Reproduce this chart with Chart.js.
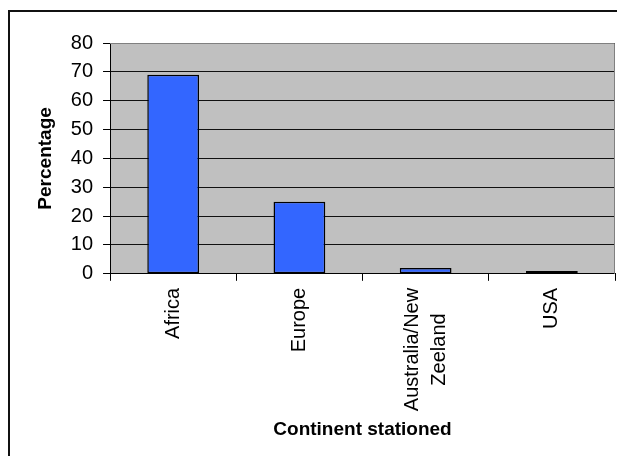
<!DOCTYPE html>
<html>
<head>
<meta charset="utf-8">
<script src="https://cdn.jsdelivr.net/npm/chart.js@4.4.1/dist/chart.umd.min.js"></script>
<style>
    html, body { margin: 0; padding: 0; background: #fff; overflow: hidden; }
    #wrap { position: relative; width: 617px; height: 456px; }
    #frame { position: absolute; left: 8px; top: 10px; width: 700px; height: 600px; border: 2px solid #111; box-sizing: border-box; }
    canvas { position: absolute; left: 0; top: 0; }
</style>
</head>
<body>
<div id="wrap">
    <div id="frame"></div>
    <canvas id="chart" width="617" height="456"></canvas>
</div>
<script>
        const categories = ['Africa', 'Europe', ['Australia/New', 'Zeeland'], 'USA'];
        const percentages = [69, 25, 2, 1];
        const yTicks = [0, 10, 20, 30, 40, 50, 60, 70, 80];

        const fontFamily = "'Liberation Sans', Arial, sans-serif";
        const tickFont = { family: fontFamily, size: 20 };
        const titleFont = { family: fontFamily, size: 19, weight: 'bold' };

        // grey plot area, Excel style
        const plotBackground = {
            id: 'plotBackground',
            beforeDraw(chart) {
                const { ctx, chartArea: a } = chart;
                ctx.save();
                ctx.fillStyle = '#C0C0C0';
                ctx.fillRect(a.left, a.top, a.right - a.left, a.bottom - a.top);
                ctx.restore();
            },
            afterDraw(chart) {
                const { ctx, chartArea: a } = chart;
                ctx.save();
                ctx.strokeStyle = '#808080';
                ctx.lineWidth = 1;
                ctx.beginPath();
                ctx.moveTo(a.left, Math.round(a.top) + 0.5);
                ctx.lineTo(Math.round(a.right) - 0.5, Math.round(a.top) + 0.5);
                ctx.lineTo(Math.round(a.right) - 0.5, a.bottom);
                ctx.stroke();
                ctx.restore();
            }
        };

        // category labels: rotated, each line centred inside the label block
        const categoryLabels = {
            id: 'categoryLabels',
            afterDraw(chart) {
                const { ctx } = chart;
                const xs = chart.scales.x;
                const lineH = 27;
                ctx.save();
                ctx.font = `${tickFont.size}px ${fontFamily}`;
                ctx.fillStyle = '#000';
                ctx.textAlign = 'center';
                ctx.textBaseline = 'middle';
                categories.forEach((lab, i) => {
                    const lines = Array.isArray(lab) ? lab : [lab];
                    const w = Math.max(...lines.map(l => ctx.measureText(l).width));
                    ctx.save();
                    ctx.translate(xs.getPixelForValue(i), xs.top + 14);
                    ctx.rotate(-Math.PI / 2);
                    lines.forEach((l, j) => {
                        ctx.fillText(l, -w / 2, (j - (lines.length - 1) / 2) * lineH);
                    });
                    ctx.restore();
                });
                ctx.restore();
            }
        };

        new Chart(document.getElementById('chart'), {
            type: 'bar',
            data: {
                labels: categories,
                datasets: [{
                    label: 'Percentage',
                    data: percentages,
                    backgroundColor: '#3366FF',
                    borderColor: '#000',
                    borderWidth: 1.5,
                    borderSkipped: false,
                    categoryPercentage: 1,
                    barPercentage: 0.41
                }]
            },
            options: {
                responsive: false,
                animation: false,
                layout: { padding: { left: 34, right: 2, top: 43, bottom: 15 } },
                plugins: {
                    legend: { display: false },
                    tooltip: { enabled: false }
                },
                scales: {
                    x: {
                        offset: true,
                        grid: { display: true, drawOnChartArea: false, offset: true, tickLength: 7, color: '#000' },
                        border: { color: '#000', width: 1 },
                        ticks: { color: 'rgba(0,0,0,0)', font: tickFont, minRotation: 90, maxRotation: 90, padding: 7 },
                        title: { display: true, text: 'Continent stationed', color: '#000', font: titleFont, padding: { top: 0, bottom: 0 } }
                    },
                    y: {
                        min: 0,
                        max: 80,
                        afterBuildTicks(axis) {
                            axis.ticks = yTicks.map(v => ({ value: v }));
                        },
                        grid: { color: '#111', tickLength: 7, tickColor: '#000' },
                        border: { color: '#000', width: 1 },
                        ticks: { color: '#000', font: tickFont, padding: 10 },
                        title: { display: true, text: 'Percentage', color: '#000', font: titleFont, padding: { top: 0, bottom: 4 } }
                    }
                }
            },
            plugins: [plotBackground, categoryLabels]
        });
</script>
</body>
</html>
